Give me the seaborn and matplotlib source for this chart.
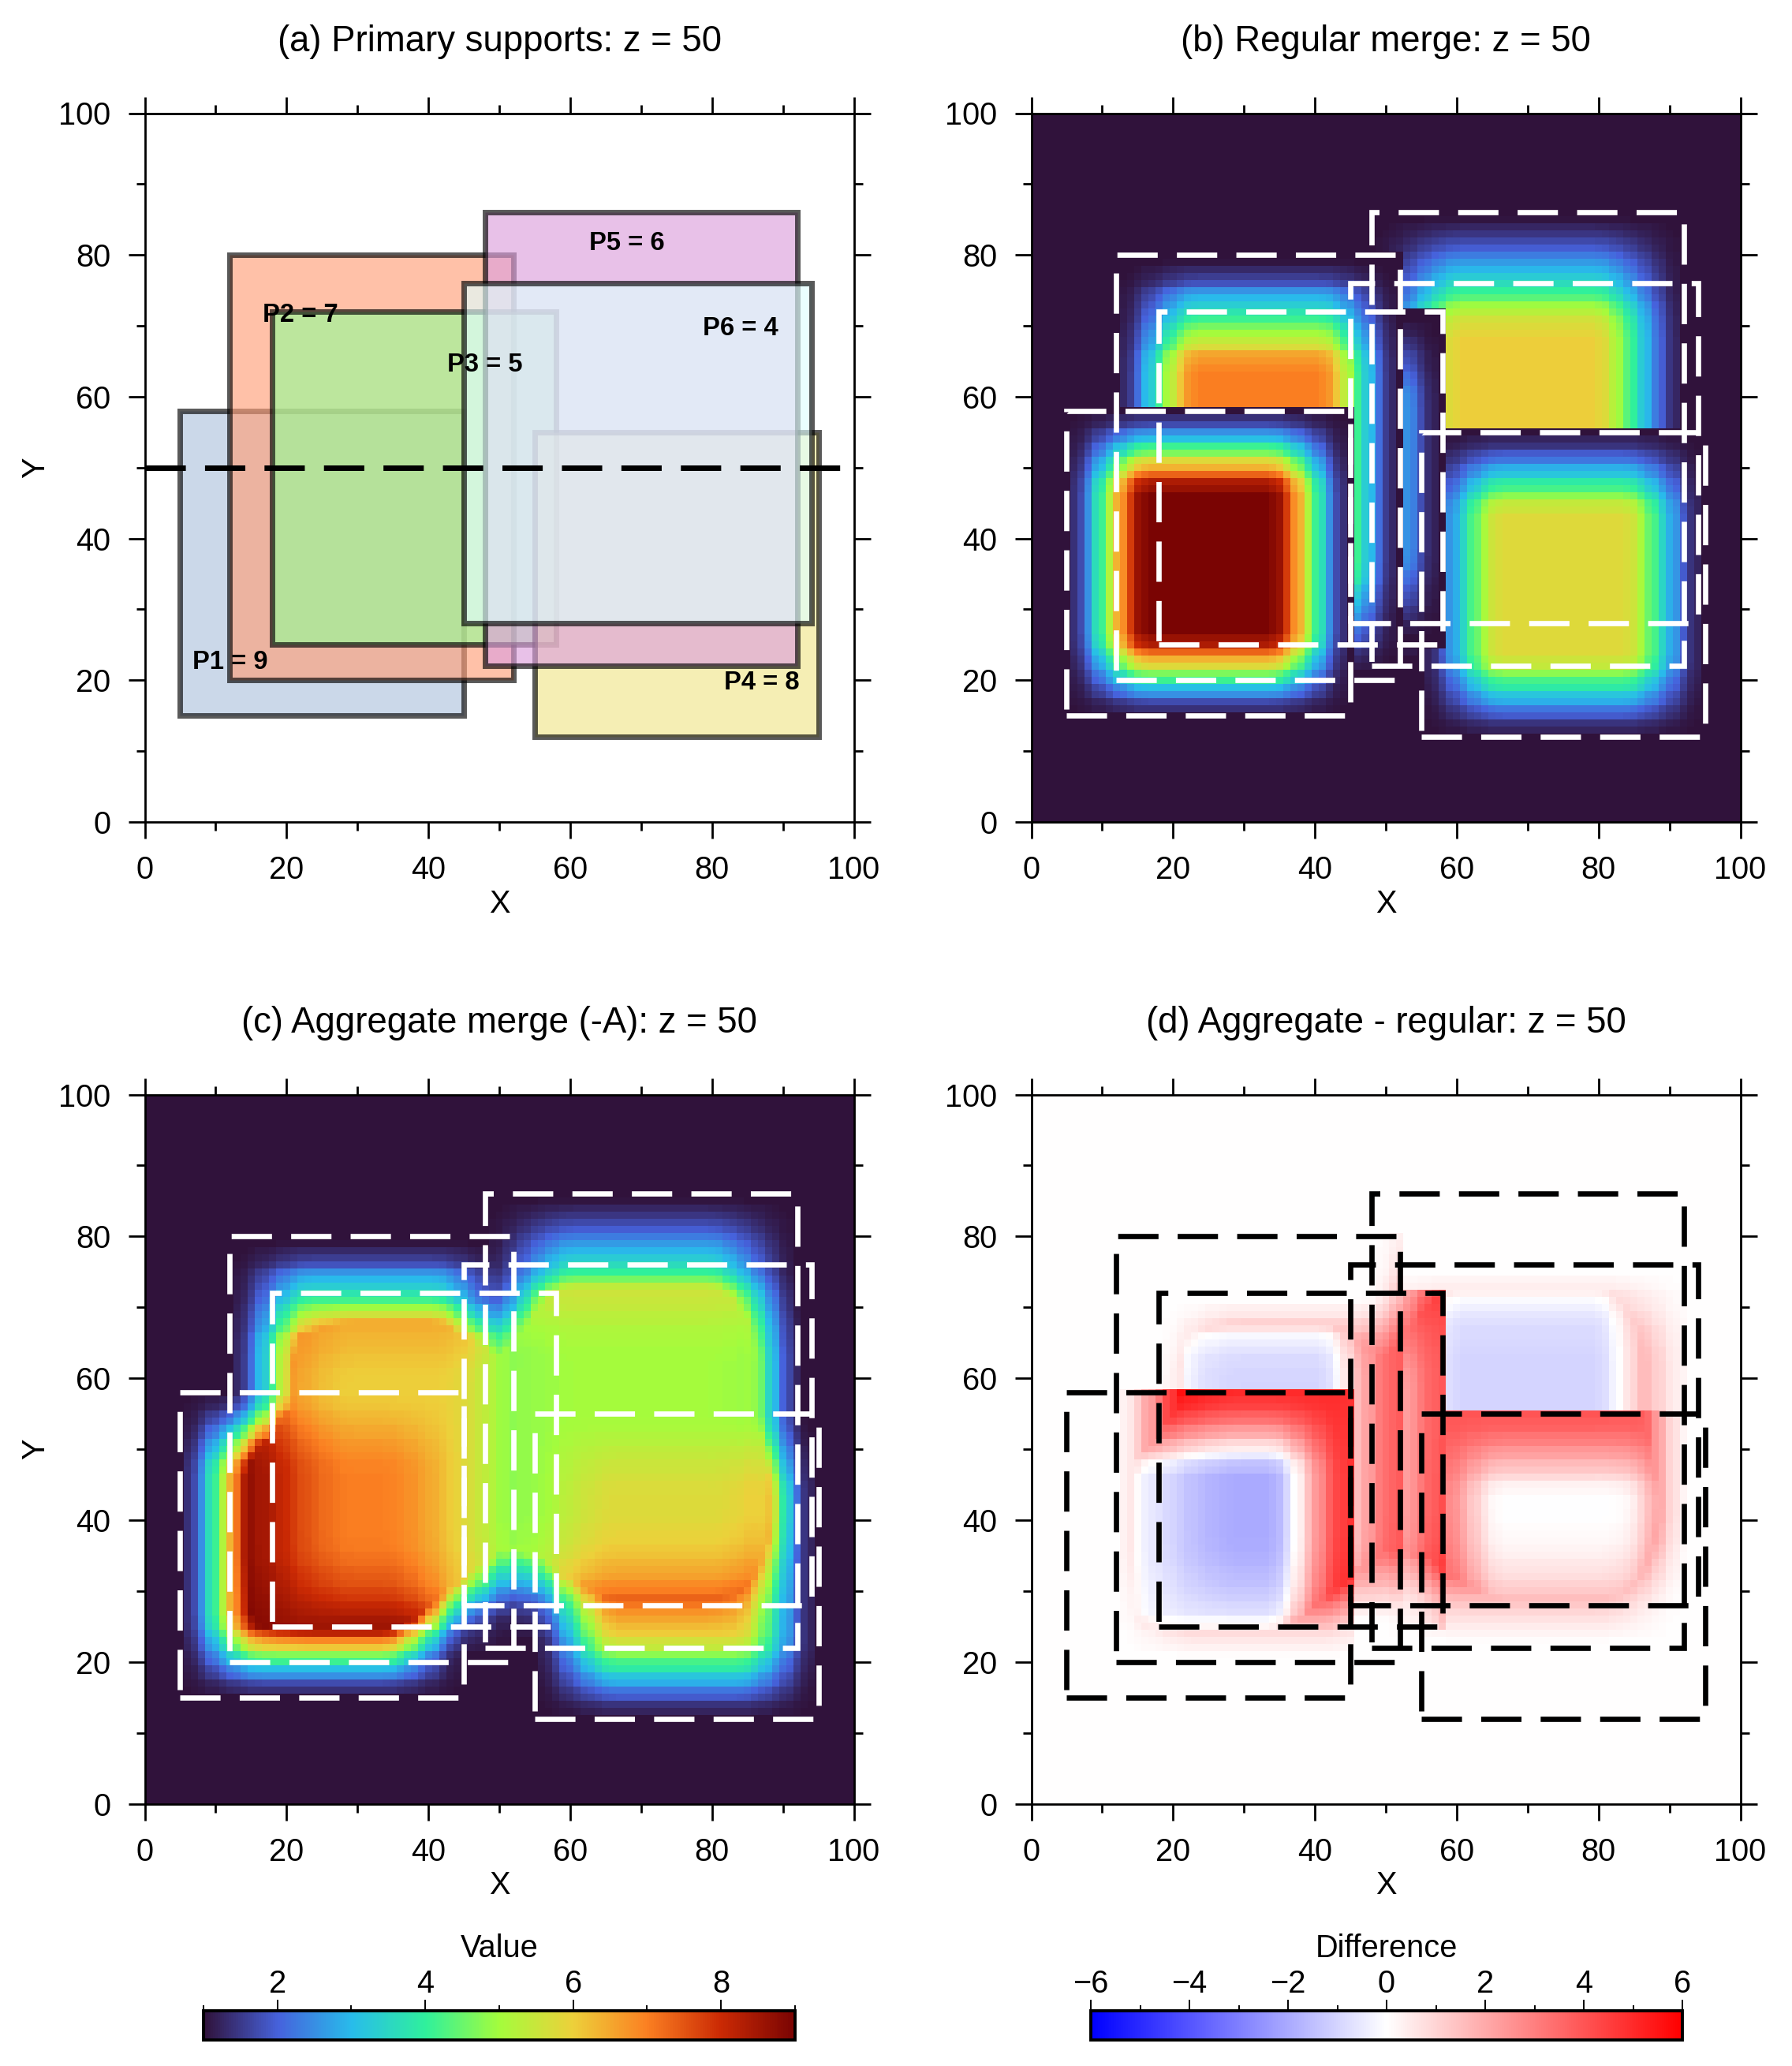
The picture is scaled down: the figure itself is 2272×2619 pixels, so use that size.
import numpy as np
import pandas as pd
import seaborn as sns
import matplotlib.pyplot as plt
from matplotlib.patches import Rectangle
from matplotlib.transforms import Affine2D
from matplotlib.ticker import MultipleLocator

# primary supports, in merge priority order
names = ["P1", "P2", "P3", "P4", "P5", "P6"]
x_lo = [5, 12, 18, 55, 48, 45]
x_hi = [45, 52, 58, 95, 92, 94]
y_lo = [15, 20, 25, 12, 22, 28]
y_hi = [58, 80, 72, 55, 86, 76]
values = [9, 7, 5, 8, 6, 4]
# how much of each support's value reaches the z = 50 level
z_weight = [1.0, 1.0, 1.0, 0.686, 1.0, 1.0]
colors = ["lightsteelblue", "lightsalmon", "palegreen", "khaki", "plum", "lightcyan"]

# label anchors in panel (a)
label_x = [12, 22, 48, 87, 68, 84]
label_y = [22.5, 71.5, 64.5, 19.6, 81.6, 69.6]

# edge taper, one entry per 5% of the taper width
taper = np.array([0, .01, .05, .09, .14, .19, .26, .33, .39, .46, .52,
                  .60, .67, .73, .79, .85, .92, .95, .98, 1, 1])
taper_frac = 0.30
floor_value = 1

# colour bar nodes at values 1..9
value_colors = ["#30123b", "#4662dc", "#28bceb", "#2ff09c", "#a4fc3c",
                "#edd03a", "#fb8022", "#cb2a04", "#7a0403"]

value_ticks = [2, 4, 6, 8]
diff_ticks = [-6, -4, -2, 0, 2, 4, 6]
axis_ticks = [0, 20, 40, 60, 80, 100]

W, H = 2272, 2619
DPI = 200

sns.set_style("ticks")
plt.rcParams["font.family"] = ["Liberation Sans", "DejaVu Sans"]
plt.rcParams["lines.scale_dashes"] = False
plt.rcParams["text.color"] = "black"
plt.rcParams["axes.labelcolor"] = "black"
plt.rcParams["xtick.labelcolor"] = "black"
plt.rcParams["ytick.labelcolor"] = "black"
dash = (0, (18.4, 8.75))


def side_weight(c, lo, hi):
    d = np.minimum(c - lo, hi - c) / (taper_frac * (hi - lo))
    return taper[np.rint(np.clip(d, 0, 1) * 20).astype(int)]


# build the fields on the 1-unit node grid
gx, gy = np.meshgrid(np.arange(101), np.arange(101))
regular = np.zeros(gx.shape)
filled = np.zeros(gx.shape, dtype=bool)
w_sum = np.zeros(gx.shape)
wv_sum = np.zeros(gx.shape)
for i in range(len(names)):
    inside = (gx >= x_lo[i]) & (gx <= x_hi[i]) & (gy >= y_lo[i]) & (gy <= y_hi[i])
    w = side_weight(gx, x_lo[i], x_hi[i]) * side_weight(gy, y_lo[i], y_hi[i]) * z_weight[i]
    w[~inside] = 0
    # first support that covers a node wins in the regular merge
    new = inside & ~filled
    regular[new] = (floor_value + (values[i] - floor_value) * w)[new]
    filled |= inside
    w_sum += w
    wv_sum += w * values[i]

core = wv_sum / np.maximum(w_sum, 1e-9)
aggregate = np.where(filled, floor_value + (core - floor_value) * np.minimum(w_sum, 1), 0)
difference = aggregate - regular

fig = plt.figure(figsize=(W / DPI, H / DPI), dpi=DPI)


def add_axes_px(left, top, right, bottom):
    return fig.add_axes([left / W, 1 - bottom / H, (right - left) / W, (bottom - top) / H])


def finish_frame(ax, title, ylabel):
    ax.set_xlim(0, 100)
    ax.set_ylim(0, 100)
    ax.set_aspect("auto")
    for s in ax.spines.values():
        s.set_visible(True)
        s.set_linewidth(1.0)
        s.set_color("black")
    ax.set_xticks(axis_ticks)
    ax.set_yticks(axis_ticks)
    ax.set_xticklabels(axis_ticks)
    ax.set_yticklabels(axis_ticks, rotation=0)
    ax.xaxis.set_minor_locator(MultipleLocator(10))
    ax.yaxis.set_minor_locator(MultipleLocator(10))
    ax.tick_params(which="major", length=7.5, width=1.0, labelsize=14.3,
                   top=True, right=True, bottom=True, left=True, direction="out", color="black")
    ax.tick_params(axis="x", which="major", pad=7.8)
    ax.tick_params(axis="y", which="major", pad=8)
    ax.tick_params(which="minor", length=4, width=1.0,
                   top=True, right=True, bottom=True, left=True, direction="out", color="black")
    ax.set_title(title, fontsize=16.4, pad=28.2, color="black")
    ax.set_xlabel("X", fontsize=14.3, labelpad=1.5)
    ax.set_ylabel("Y" if ylabel else "", fontsize=14.3, labelpad=3.5)


def dashed_boxes(ax, col):
    for i in range(len(names)):
        ax.add_patch(Rectangle((x_lo[i], y_lo[i]), x_hi[i] - x_lo[i], y_hi[i] - y_lo[i],
                               fill=False, edgecolor=col, linewidth=2.4, linestyle=dash,
                               capstyle="butt", joinstyle="miter", zorder=3))


def field_panel(box, data, cmap, vmin, vmax, title, ylabel, col):
    ax = add_axes_px(*box)
    sns.heatmap(pd.DataFrame(data), ax=ax, cmap=cmap, vmin=vmin, vmax=vmax, cbar=False,
                xticklabels=False, yticklabels=False)
    # grid is node registered: each cell is centred on its coordinate
    mesh = ax.collections[0]
    mesh.set_transform(Affine2D().translate(-0.5, -0.5) + ax.transData)
    dashed_boxes(ax, col)
    finish_frame(ax, title, ylabel)
    return mesh


# (a) primary supports
ax_a = add_axes_px(183.5, 143.5, 1082.5, 1042)
for i in range(len(names)):
    ax_a.add_patch(Rectangle((x_lo[i], y_lo[i]), x_hi[i] - x_lo[i], y_hi[i] - y_lo[i],
                             facecolor=colors[i], edgecolor="black", linewidth=2.5,
                             alpha=0.65, joinstyle="miter", zorder=2))
for i in range(len(names)):
    ax_a.text(label_x[i], label_y[i], f"{names[i]} = {values[i]}", fontsize=11.8,
              fontweight="bold", ha="center", va="center", zorder=4)
ax_a.plot([0, 100], [50, 50], color="black", linewidth=2.5, linestyle=dash,
          dash_capstyle="butt", zorder=5)
finish_frame(ax_a, "(a) Primary supports: z = 50", True)

value_cmap = sns.blend_palette(value_colors, n_colors=256, as_cmap=True)
diff_cmap = sns.blend_palette(["#0000ff", "#ffffff", "#ff0000"], n_colors=256, as_cmap=True)

field_panel((1307.5, 143.5, 2206.5, 1042), regular, value_cmap, 1, 9,
            "(b) Regular merge: z = 50", False, "white")
mesh_c = field_panel((183.5, 1387.5, 1082.5, 2286.5), aggregate, value_cmap, 1, 9,
                     "(c) Aggregate merge (-A): z = 50", True, "white")
mesh_d = field_panel((1307.5, 1387.5, 2206.5, 2286.5), difference, diff_cmap, -6, 6,
                     "(d) Aggregate - regular: z = 50", False, "black")


def colour_bar(mesh, box, ticks, minor_step, label):
    cax = add_axes_px(*box)
    cb = fig.colorbar(mesh, cax=cax, orientation="horizontal")
    cb.set_ticks(ticks)
    cb.outline.set_linewidth(1.4)
    cb.outline.set_edgecolor("black")
    cax.xaxis.set_ticks_position("top")
    cax.xaxis.set_minor_locator(MultipleLocator(minor_step))
    cax.tick_params(which="major", length=5, width=0.7, pad=0.5, labelsize=14.3, top=True, bottom=False,
                    color="black")
    cax.tick_params(which="minor", length=2.4, width=0.7, top=True, bottom=False, color="black")
    fig.text((box[0] + box[2]) / 2 / W, 1 - 2470 / H, label, fontsize=14.3, ha="center", va="center")


colour_bar(mesh_c, (258, 2549, 1008, 2586), value_ticks, 1, "Value")
colour_bar(mesh_d, (1383, 2549, 2133, 2586), diff_ticks, 1, "Difference")

fig.savefig("out.png", dpi=DPI)
